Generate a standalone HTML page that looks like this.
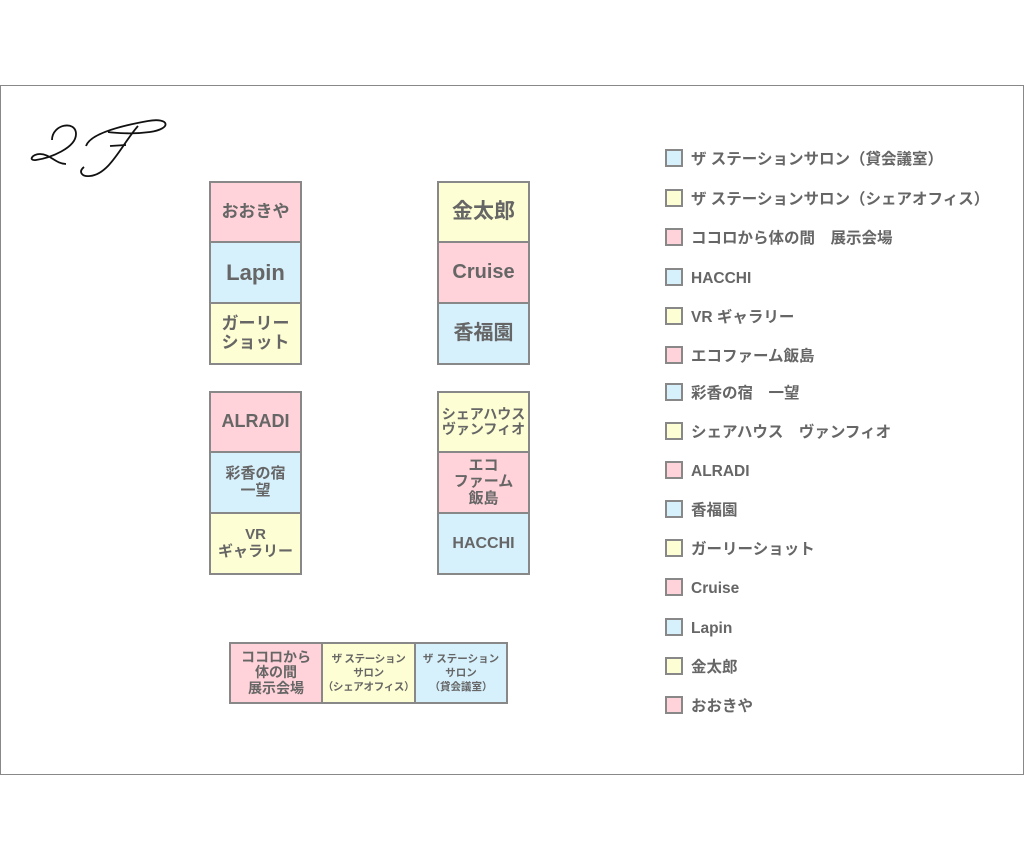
<!DOCTYPE html>
<html><head><meta charset="utf-8"><style>
body{margin:0;width:1024px;height:861px;background:#fff;position:relative;overflow:hidden;font-family:"Liberation Sans","Noto Sans CJK JP",sans-serif;font-weight:bold;color:#666}
.frame{position:absolute;left:0;top:85px;width:1022px;height:688px;border:1px solid #888}
.b{position:absolute;box-sizing:border-box;border:2px solid #888;display:flex;align-items:center;justify-content:center;text-align:center;line-height:1.08;white-space:nowrap}
.p{background:#ffd3d9}.c{background:#d6f0fc}.y{background:#fefed4}
.lg{position:absolute;left:665px;font-size:15.5px;line-height:20px;white-space:nowrap}
.lg i{display:inline-block;width:14px;height:14px;border:2px solid #888;vertical-align:-3px;margin-right:8px}
</style></head><body>
<div class="frame"></div>
<svg style="position:absolute;left:28px;top:112px" width="145" height="72" viewBox="0 0 145 72" fill="none" stroke="#111" stroke-width="1.8">
<path d="M24 28 C24 12 48 8 48 22 C48 36 22 46 8 48 C0 49 4 42 12 42 C22 42 28 52 38 52"/>
<path d="M58 34 C62 22 92 14 120 9 C142 5 144 17 122 20 C100 23 80 20 80 20"/>
<path d="M110 14 C94 32 82 62 62 64 C54 65 50 60 56 55"/>
<path d="M82 34 L98 33"/>
</svg>
<div class="b p" style="left:209px;top:181px;width:93px;height:62px;font-size:17px">おおきや</div>
<div class="b c" style="left:209px;top:241px;width:93px;height:63px;font-size:22px">Lapin</div>
<div class="b y" style="left:209px;top:302px;width:93px;height:63px;font-size:17px">ガーリー<br>ショット</div>
<div class="b p" style="left:209px;top:391px;width:93px;height:62px;font-size:18px">ALRADI</div>
<div class="b c" style="left:209px;top:451px;width:93px;height:63px;font-size:15px">彩香の宿<br>一望</div>
<div class="b y" style="left:209px;top:512px;width:93px;height:63px;font-size:15px">VR<br>ギャラリー</div>
<div class="b y" style="left:437px;top:181px;width:93px;height:62px;font-size:21px">金太郎</div>
<div class="b p" style="left:437px;top:241px;width:93px;height:63px;font-size:20px">Cruise</div>
<div class="b c" style="left:437px;top:302px;width:93px;height:63px;font-size:20px">香福園</div>
<div class="b y" style="left:437px;top:391px;width:93px;height:62px;font-size:14px">シェアハウス<br>ヴァンフィオ</div>
<div class="b p" style="left:437px;top:451px;width:93px;height:63px;font-size:15px">エコ<br>ファーム<br>飯島</div>
<div class="b c" style="left:437px;top:512px;width:93px;height:63px;font-size:16px">HACCHI</div>
<div class="b p" style="left:229px;top:642px;width:94px;height:62px;font-size:14px">ココロから<br>体の間<br>展示会場</div>
<div class="b y" style="left:321px;top:642px;width:95px;height:62px;font-size:10.5px;line-height:1.35;letter-spacing:-0.3px">ザ ステーション<br>サロン<br>（シェアオフィス）</div>
<div class="b c" style="left:414px;top:642px;width:94px;height:62px;font-size:10.5px;line-height:1.35">ザ ステーション<br>サロン<br>（貸会議室）</div>
<div class="lg" style="top:149px"><i class="c"></i>ザ ステーションサロン（貸会議室）</div>
<div class="lg" style="top:189px"><i class="y"></i>ザ ステーションサロン（シェアオフィス）</div>
<div class="lg" style="top:228px"><i class="p"></i>ココロから体の間　展示会場</div>
<div class="lg" style="top:268px"><i class="c"></i>HACCHI</div>
<div class="lg" style="top:307px"><i class="y"></i>VR ギャラリー</div>
<div class="lg" style="top:346px"><i class="p"></i>エコファーム飯島</div>
<div class="lg" style="top:383px"><i class="c"></i>彩香の宿　一望</div>
<div class="lg" style="top:422px"><i class="y"></i>シェアハウス　ヴァンフィオ</div>
<div class="lg" style="top:461px"><i class="p"></i>ALRADI</div>
<div class="lg" style="top:500px"><i class="c"></i>香福園</div>
<div class="lg" style="top:539px"><i class="y"></i>ガーリーショット</div>
<div class="lg" style="top:578px"><i class="p"></i>Cruise</div>
<div class="lg" style="top:618px"><i class="c"></i>Lapin</div>
<div class="lg" style="top:657px"><i class="y"></i>金太郎</div>
<div class="lg" style="top:696px"><i class="p"></i>おおきや</div>
</body></html>
